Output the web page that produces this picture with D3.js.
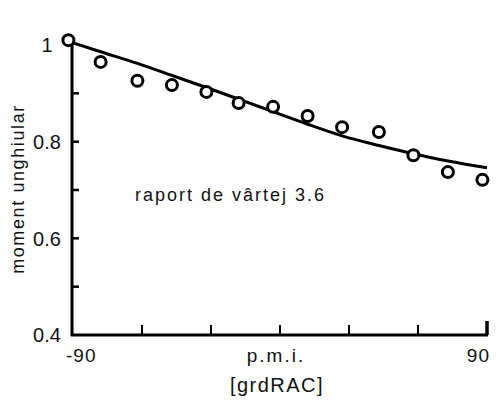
<!DOCTYPE html>
<html>
<head>
<meta charset="utf-8">
<script src="https://cdn.jsdelivr.net/npm/d3@7"></script>
<style>
	body { margin: 0; background: #fff; }
	svg text { font-family: "Liberation Sans", Arial, sans-serif; fill: #111; }
</style>
</head>
<body>
<div id="chart"></div>
<script>
// masuratori (cercuri)
var pointX = [-92, -78, -62, -47, -32, -18, -3, 12, 27, 43, 58, 73, 88];
var pointY = [1.01, 0.965, 0.926, 0.917, 0.903, 0.88, 0.872, 0.853, 0.83, 0.82, 0.772, 0.737, 0.721];
// curba calculata
var curveX = [-91, -78, -62, -47, -32, -18, -3, 12, 27, 43, 58, 73, 90];
var curveY = [1.006, 0.986, 0.962, 0.937, 0.912, 0.888, 0.862, 0.836, 0.812, 0.792, 0.775, 0.760, 0.746];

var yTickVals = [0.4, 0.6, 0.8, 1];
var yTickLabels = ['0.4', '0.6', '0.8', '1'];
var yMinorTicks = [0.5, 0.6, 0.7, 0.8, 0.9];
var xTickVals = [-90, 0, 90];
var xTickLabels = ['-90', 'p.m.i.', '90'];
var xMinorTicks = [-60, -30, 0, 30, 60];

var W = 497, H = 400;

var svg = d3.select('#chart').append('svg')
	.attr('width', W)
	.attr('height', H);

var x = d3.scaleLinear().domain([-90, 90]).range([73, 487]);
var y = d3.scaleLinear().domain([0.4, 1]).range([335, 45]);

// axe
svg.append('line')
	.attr('x1', 72).attr('x2', 72)
	.attr('y1', y(1) - 4).attr('y2', y(0.4) + 1)
	.attr('stroke', '#000').attr('stroke-width', 3);
svg.append('line')
	.attr('x1', 71).attr('x2', x(90) + 1)
	.attr('y1', y(0.4)).attr('y2', y(0.4))
	.attr('stroke', '#000').attr('stroke-width', 3);

svg.selectAll('.ytick').data(yMinorTicks).enter().append('line')
	.attr('class', 'ytick')
	.attr('x1', 72).attr('x2', 79)
	.attr('y1', function(d){ return y(d); })
	.attr('y2', function(d){ return y(d); })
	.attr('stroke', '#000').attr('stroke-width', 2.5);

svg.selectAll('.xtick').data(xMinorTicks).enter().append('line')
	.attr('class', 'xtick')
	.attr('x1', function(d){ return x(d); })
	.attr('x2', function(d){ return x(d); })
	.attr('y1', y(0.4)).attr('y2', y(0.4) - 10)
	.attr('stroke', '#000').attr('stroke-width', 2);

// capatul axei x
svg.append('line')
	.attr('x1', x(90)).attr('x2', x(90))
	.attr('y1', y(0.4)).attr('y2', y(0.4) - 14)
	.attr('stroke', '#000').attr('stroke-width', 3.5);

// etichete y
svg.selectAll('.ylab').data(yTickVals).enter().append('text')
	.attr('class', 'ylab')
	.attr('x', 47)
	.attr('y', function(d){ return y(d); })
	.attr('dy', '0.36em')
	.attr('text-anchor', 'middle')
	.style('font-size', '20px')
	.text(function(d, i){ return yTickLabels[i]; });

// etichete x
svg.selectAll('.xlab').data(xTickVals).enter().append('text')
	.attr('class', 'xlab')
	.attr('x', function(d, i){ return i == 0 ? x(d) - 7 : (i == 2 ? x(d) + 3 : x(d) - 4); })
	.attr('y', 362)
	.attr('text-anchor', function(d, i){ return i == 0 ? 'start' : (i == 2 ? 'end' : 'middle'); })
	.style('font-size', '19px')
	.style('letter-spacing', function(d, i){ return i == 1 ? '2px' : '1px'; })
	.text(function(d, i){ return xTickLabels[i]; });

svg.append('text')
	.attr('x', 277).attr('y', 392)
	.attr('text-anchor', 'middle')
	.style('font-size', '20px')
	.style('letter-spacing', '1.5px')
	.text('[grdRAC]');

svg.append('text')
	.attr('transform', 'translate(24,189) rotate(-90)')
	.attr('text-anchor', 'middle')
	.style('font-size', '18px')
	.style('letter-spacing', '1.6px')
	.text('moment unghiular');

svg.append('text')
	.attr('x', 135).attr('y', 201)
	.style('font-size', '18px')
	.style('letter-spacing', '2px')
	.text('raport de vârtej 3.6');

// curba
var line = d3.line()
	.x(function(d){ return x(d[0]); })
	.y(function(d){ return y(d[1]); })
	.curve(d3.curveMonotoneX);

svg.append('path')
	.datum(curveX.map(function(v, i){ return [v, curveY[i]]; }))
	.attr('d', line)
	.attr('fill', 'none')
	.attr('stroke', '#000')
	.attr('stroke-width', 3);

// cercuri
svg.selectAll('.pt').data(pointX).enter().append('circle')
	.attr('class', 'pt')
	.attr('cx', function(d){ return x(d); })
	.attr('cy', function(d, i){ return y(pointY[i]); })
	.attr('r', 5.5)
	.attr('fill', '#fff')
	.attr('stroke', '#000')
	.attr('stroke-width', 3);
</script>
</body>
</html>
